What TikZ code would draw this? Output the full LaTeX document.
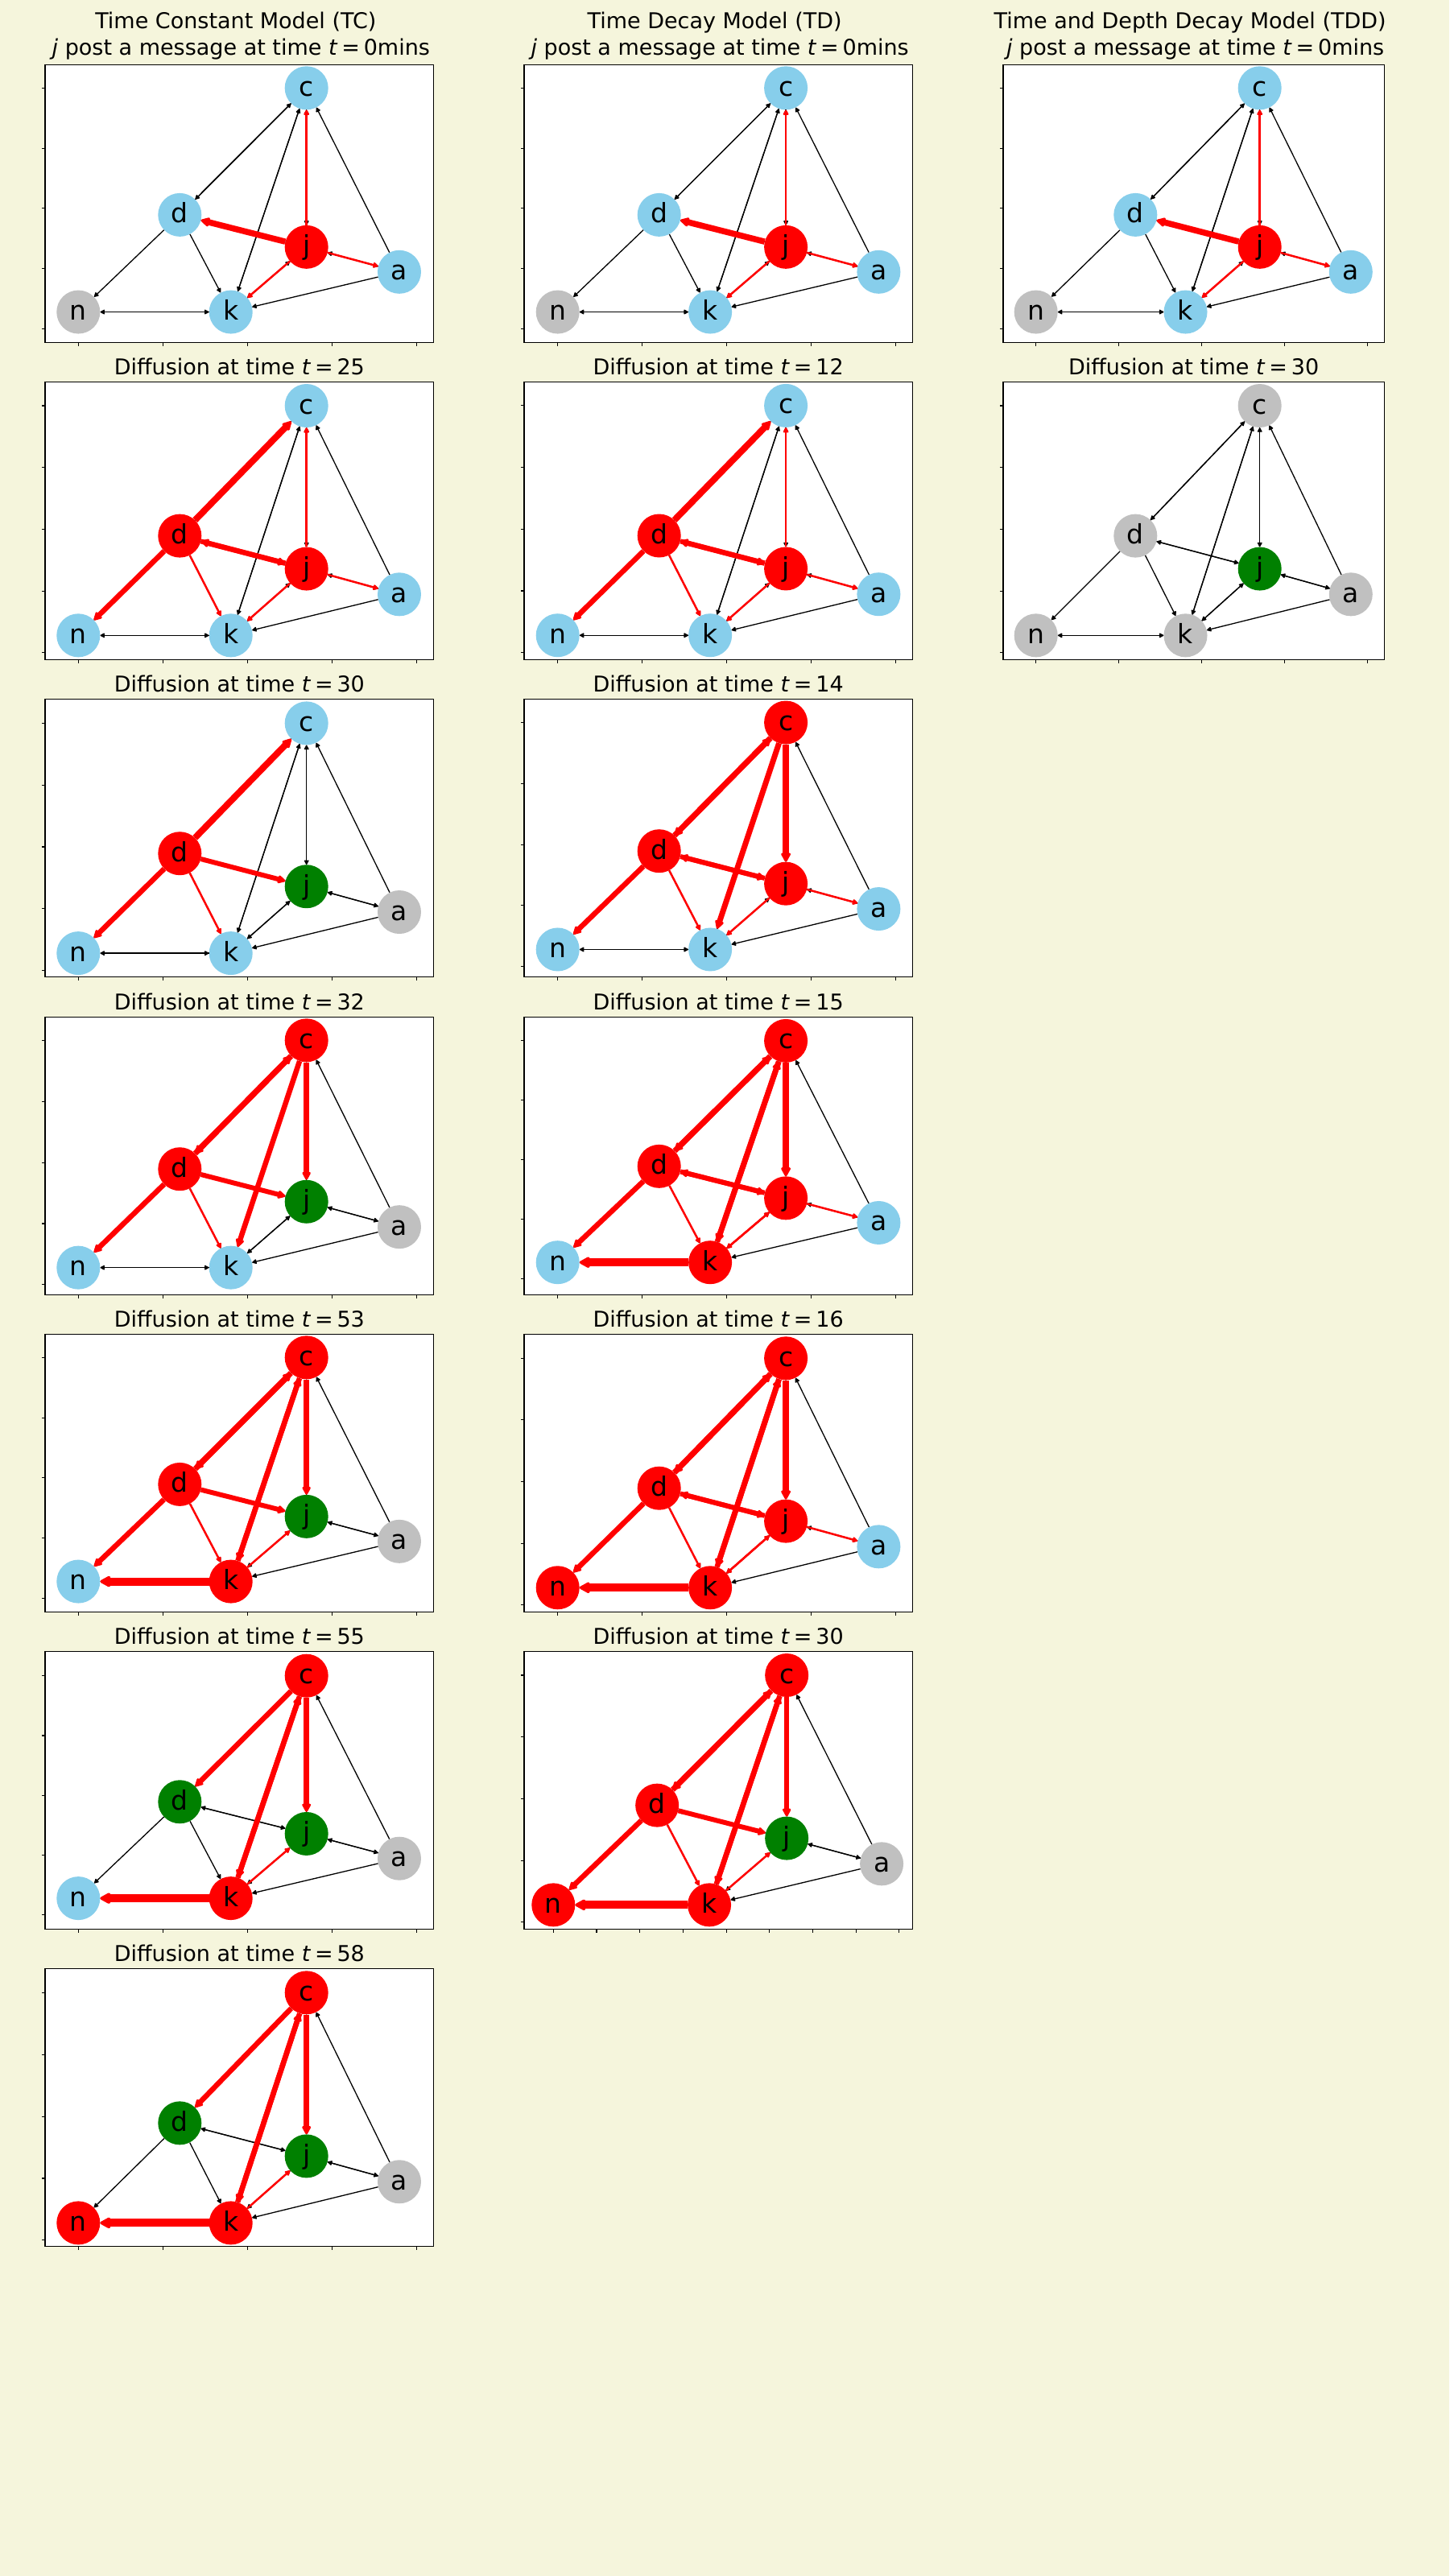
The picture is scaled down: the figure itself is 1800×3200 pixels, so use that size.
\documentclass[tikz,border=0pt]{standalone}
\usepackage{fontspec}
\setmainfont{DejaVu Sans}
\usetikzlibrary{arrows.meta,positioning}

\definecolor{bgbeige}{HTML}{F5F5DC}
\definecolor{sky}{HTML}{87CEEB}
\definecolor{silver}{HTML}{C0C0C0}
\definecolor{recov}{HTML}{008000}

\newcommand{\teq}[1]{\textit{t}\hspace{0.18em}=\hspace{0.18em}#1}

\tikzset{
    gnode/.style={circle, inner sep=0pt, minimum size=54pt, text height=20pt, text depth=0pt, font=\fontsize{33}{33}\selectfont},
    blackedge/.style={black, line width=1.3pt, -{Triangle[length=5pt 1, width=5pt 1, round]}},
    rededge/.style={red, line width=#1, -{Triangle[length=5pt 1, width=5pt 1, round]}},
    ttl/.style={font=\fontsize{27}{27}\selectfont, anchor=base, inner sep=0pt},
    axframe/.style={draw=black, fill=white, line width=1.1pt},
    axtick/.style={black, line width=1.1pt}
}

% #1 name, #2 #3 top left, #4 width, #5 #6 x of n and x unit, #7 #8 y of c and y unit, #9 tick step
\newcommand{\panelbox}[9]{%
    \draw[axframe] (#2,#3) rectangle ++(#4,345);
    \coordinate (#1-top) at ({#2+#4/2},#3);
    \foreach \i in {0,...,4}
        \draw[axtick] ({#2},{#3+#7+\i*#8}) -- ++(-4.5,0);
    \foreach \i in {0,#9,...,4}
        \draw[axtick] ({#2+#5+\i*#6},{#3+345}) -- ++(0,4.5);
    \foreach \nm/\u/\v in {c/2.699/0, d/1.2/2.107, j/2.699/2.641, a/3.797/3.055, n/0/3.72, k/1.804/3.72}
        \coordinate (#1\nm) at ({#2+#5+\u*#6},{#3+#7+\v*#8});
}

\newcommand{\panelgraph}[2]{%
    \foreach \nm/\col in {#2}
        \node[gnode, fill=\col] (#1-\nm) at (#1\nm) {\nm};
    \foreach \s/\t in {c/d, d/c, c/k, k/c, c/j, j/c, a/c, d/n, d/k, d/j, j/d, j/a, a/j, j/k, k/j, a/k, n/k, k/n}
        \draw[blackedge] (#1-\s) -- (#1-\t);
}

\newcommand{\rededges}[2]{%
    \foreach \s/\t/\w in {#2}
        \draw[rededge=\w pt] (#1-\s) -- (#1-\t);
}

\begin{document}
\begin{tikzpicture}[x=1pt, y=-1pt]
\useasboundingbox (0,0) rectangle (1800,3200);
\fill[bgbeige] (0,0) rectangle (1800,3200);

% Time Constant Model
\panelbox{tc0}{56}{80.3}{482.7}{41.3}{105}{29}{74.8}{1}
\panelgraph{tc0}{c/sky, d/sky, j/red, a/sky, n/silver, k/sky}
\rededges{tc0}{j/d/7.5, j/c/2.5, j/a/2.5, j/k/2.5}
\node[ttl] (tc0-t1) at ([xshift=-4.5pt, yshift=45pt]tc0-top) {Time Constant Model (TC)};
\node[ttl] (tc0-t2) at ([xshift=2pt, yshift=12pt]tc0-top) {\textit{j} post a message at time \teq{0}mins};

\panelbox{tc1}{56}{474.3}{482.7}{41.3}{105}{29.7}{76.7}{1}
\panelgraph{tc1}{c/sky, d/red, j/red, a/sky, n/sky, k/sky}
\rededges{tc1}{d/c/8, d/n/6.5, d/j/6, j/d/6.5, d/k/2.5, j/c/2.5, j/a/2.5, j/k/2.5}
\node[ttl] (tc1-t) at ([yshift=9pt]tc1-top) {Diffusion at time \teq{25}};

\panelbox{tc2}{56}{868.4}{482.7}{41.3}{105}{30}{76.8}{1}
\panelgraph{tc2}{c/sky, d/red, j/recov, a/silver, n/sky, k/sky}
\rededges{tc2}{d/c/8, d/n/6.5, d/j/6, d/k/2.5}
\node[ttl] (tc2-t) at ([yshift=9pt]tc2-top) {Diffusion at time \teq{30}};

\panelbox{tc3}{56}{1263.3}{482.7}{41.3}{105}{29}{75.9}{1}
\panelgraph{tc3}{c/red, d/red, j/recov, a/silver, n/sky, k/sky}
\rededges{tc3}{c/d/7, d/c/7, c/j/6.5, c/k/6.5, d/j/6, d/n/6.5, d/k/2.5}
\node[ttl] (tc3-t) at ([yshift=9pt]tc3-top) {Diffusion at time \teq{32}};

\panelbox{tc4}{56}{1657.6}{482.7}{41.3}{105}{28.7}{74.8}{1}
\panelgraph{tc4}{c/red, d/red, j/recov, a/silver, n/sky, k/red}
\rededges{tc4}{c/d/7, d/c/7, c/j/6.5, c/k/6.5, k/c/6.5, d/j/6, d/n/6.5, d/k/2.5, k/j/2.5, k/n/10}
\node[ttl] (tc4-t) at ([yshift=9pt]tc4-top) {Diffusion at time \teq{53}};

\panelbox{tc5}{56}{2051.7}{482.7}{41.3}{105}{30}{74.3}{1}
\panelgraph{tc5}{c/red, d/recov, j/recov, a/silver, n/sky, k/red}
\rededges{tc5}{c/d/6.5, c/j/7, c/k/6.5, k/c/6.5, k/j/2.5, k/n/10}
\node[ttl] (tc5-t) at ([yshift=9pt]tc5-top) {Diffusion at time \teq{55}};

\panelbox{tc6}{56}{2445.3}{482.7}{41.3}{105}{30}{76.9}{1}
\panelgraph{tc6}{c/red, d/recov, j/recov, a/silver, n/red, k/red}
\rededges{tc6}{c/d/6.5, c/j/7, c/k/6.5, k/c/6.5, k/j/2.5, k/n/10}
\node[ttl] (tc6-t) at ([yshift=9pt]tc6-top) {Diffusion at time \teq{58}};

% Time Decay Model
\panelbox{td0}{651}{80.3}{482.3}{41.7}{105}{29}{74.8}{1}
\panelgraph{td0}{c/sky, d/sky, j/red, a/sky, n/silver, k/sky}
\rededges{td0}{j/d/7.5, j/c/2.5, j/a/2.5, j/k/2.5}
\node[ttl] (td0-t1) at ([xshift=-4.5pt, yshift=45pt]td0-top) {Time Decay Model (TD)};
\node[ttl] (td0-t2) at ([xshift=2pt, yshift=12pt]td0-top) {\textit{j} post a message at time \teq{0}mins};

\panelbox{td1}{651}{474.3}{482.3}{41.7}{105}{29.6}{76.7}{1}
\panelgraph{td1}{c/sky, d/red, j/red, a/sky, n/sky, k/sky}
\rededges{td1}{d/c/8, d/n/6.5, d/j/6, j/d/6.5, d/k/2.5, j/c/2.5, j/a/2.5, j/k/2.5}
\node[ttl] (td1-t) at ([yshift=9pt]td1-top) {Diffusion at time \teq{12}};

\panelbox{td2}{651}{868.4}{482.3}{41.7}{105}{29.1}{75.8}{1}
\panelgraph{td2}{c/red, d/red, j/red, a/sky, n/sky, k/sky}
\rededges{td2}{j/c/2.5, c/d/7, d/c/7, c/j/8, c/k/7, d/j/6, j/d/6, d/n/6.5, d/k/2.5, j/a/2.5, j/k/2.5}
\node[ttl] (td2-t) at ([yshift=9pt]td2-top) {Diffusion at time \teq{14}};

\panelbox{td3}{651}{1263.3}{482.3}{41.7}{105}{29.6}{74}{1}
\panelgraph{td3}{c/red, d/red, j/red, a/sky, n/sky, k/red}
\rededges{td3}{j/c/2.5, c/d/7, d/c/7, c/j/8, c/k/7, k/c/6.5, d/j/6, j/d/6, d/n/6.5, d/k/2.5, j/a/2.5, j/k/2.5, k/j/2.5, k/n/10}
\node[ttl] (td3-t) at ([yshift=9pt]td3-top) {Diffusion at time \teq{15}};

\panelbox{td4}{651}{1657.6}{482.3}{41.7}{105}{29.7}{76.6}{1}
\panelgraph{td4}{c/red, d/red, j/red, a/sky, n/red, k/red}
\rededges{td4}{j/c/2.5, c/d/7, d/c/7, c/j/8, c/k/7, k/c/6.5, d/j/6, j/d/6, d/n/6.5, d/k/2.5, j/a/2.5, j/k/2.5, k/j/2.5, k/n/10}
\node[ttl] (td4-t) at ([yshift=9pt]td4-top) {Diffusion at time \teq{16}};

\panelbox{td5}{651}{2051.7}{482.3}{36.3}{107.4}{29.3}{76.7}{0.5}
\panelgraph{td5}{c/red, d/red, j/recov, a/silver, n/red, k/red}
\rededges{td5}{c/d/7, d/c/7, c/j/6.5, c/k/6.5, k/c/6.5, d/j/6, d/n/6.5, d/k/2.5, k/j/2.5, k/n/10}
\node[ttl] (td5-t) at ([yshift=9pt]td5-top) {Diffusion at time \teq{30}};

% Time and Depth Decay Model
\panelbox{tdd0}{1246}{80.3}{473.3}{40.7}{103}{29}{74.8}{1}
\panelgraph{tdd0}{c/sky, d/sky, j/red, a/sky, n/silver, k/sky}
\rededges{tdd0}{j/d/7.5, j/c/2.5, j/a/2.5, j/k/2.5}
\node[ttl] (tdd0-t1) at ([xshift=-4.5pt, yshift=45pt]tdd0-top) {Time and Depth Decay Model (TDD)};
\node[ttl] (tdd0-t2) at ([xshift=2pt, yshift=12pt]tdd0-top) {\textit{j} post a message at time \teq{0}mins};

\panelbox{tdd1}{1246}{474.3}{473.3}{40.7}{103}{29.7}{76.7}{1}
\panelgraph{tdd1}{c/silver, d/silver, j/recov, a/silver, n/silver, k/silver}
\node[ttl] (tdd1-t) at ([yshift=9pt]tdd1-top) {Diffusion at time \teq{30}};
\end{tikzpicture}
\end{document}
